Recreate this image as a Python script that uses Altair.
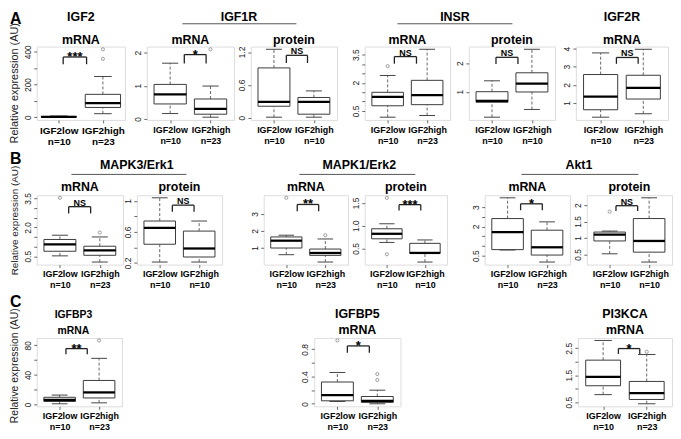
import altair as alt
import pandas as pd

FONT = "Liberation Sans"

# ---------------- values ----------------
GROUPS = ["IGF2low", "IGF2high"]
PANEL_NAMES = ["IGF2 mRNA", "IGF1R mRNA", "IGF1R protein", "INSR mRNA", "INSR protein", "IGF2R mRNA",
               "MAPK3 mRNA", "MAPK3 protein", "MAPK1 mRNA", "MAPK1 protein", "Akt1 mRNA", "Akt1 protein",
               "IGFBP3 mRNA", "IGFBP5 mRNA", "PI3KCA mRNA"]
N_LOW = [10, 10, 10, 10, 10, 10, 10, 10, 10, 10, 10, 10, 10, 10, 10]
N_HIGH = [23, 23, 10, 23, 10, 23, 23, 10, 23, 10, 23, 10, 23, 23, 23]

# [lower whisker, Q1, median, Q3, upper whisker]
LOW_STATS = [
    [0.5, 1.5, 3.0, 5.0, 8.0],
    [0.16, 0.45, 0.74, 1.04, 1.68],
    [0.01, 0.21, 0.29, 0.91, 1.25],
    [0.16, 0.77, 1.25, 1.49, 2.39],
    [0.11, 0.63, 0.68, 1.00, 1.38],
    [0.22, 0.63, 1.35, 2.57, 3.76],
    [0.52, 0.76, 1.12, 1.37, 1.59],
    [0.21, 0.44, 0.65, 0.74, 1.04],
    [0.61, 1.00, 1.43, 1.65, 1.75],
    [0.63, 0.71, 0.82, 0.93, 1.04],
    [0.79, 0.81, 1.71, 2.41, 3.48],
    [0.52, 0.91, 1.10, 1.18, 1.21],
    [0.9, 4.0, 6.2, 9.7, 12.7],
    [0.034, 0.044, 0.126, 0.32, 0.46],
    [0.78, 1.11, 1.44, 2.06, 2.79],
]
HIGH_STATS = [
    [22, 60, 86, 140, 249],
    [0.05, 0.14, 0.30, 0.60, 0.99],
    [0.01, 0.065, 0.29, 0.37, 0.49],
    [0.25, 0.83, 1.34, 2.13, 3.79],
    [0.38, 0.99, 1.28, 1.66, 2.48],
    [0.41, 1.22, 1.84, 2.53, 3.96],
    [0.20, 0.55, 0.81, 1.02, 1.50],
    [0.21, 0.275, 0.385, 0.61, 0.74],
    [0.18, 0.57, 0.71, 0.94, 1.53],
    [0.20, 0.39, 0.40, 0.61, 0.685],
    [0.17, 0.53, 0.93, 1.81, 2.24],
    [0.27, 0.57, 0.91, 1.59, 2.22],
    [2.2, 8.8, 16.3, 32.5, 62.4],
    [0.0, 0.02, 0.044, 0.107, 0.20],
    [0.44, 0.60, 0.84, 1.27, 2.27],
]
LOW_OUTLIERS = [[], [], [], [2.89], [], [], [3.53], [], [3.94], [1.61, 0.37], [], [1.80], [], [0.93], []]
HIGH_OUTLIERS = [[357, 415], [2.1], [], [], [], [], [1.73], [], [1.75], [], [], [], [86.6], [0.35, 0.437], [2.37]]

SIG_TEXT = ["***", "*", "NS", "NS", "NS", "NS", "NS", "NS", "**", "***", "*", "NS", "**", "*", "*"]
BRACKET_TOP = [368, 1.94, 1.14, 3.4, 2.2, 3.51, 3.07, 0.945, 3.55, 1.46, 3.17, 1.98, 75.6, 0.85, 2.49]
BRACKET_END = [324, 1.67, 1.0, 3.02, 1.97, 3.16, 2.72, 0.86, 3.16, 1.33, 2.84, 1.82, 68.1, 0.75, 2.29]
BRACKET_FROM = [1.10, 1.35, 1.31, 1.17, 1.10, 1.37, 1.22, 1.32, 1.28, 1.32, 1.33, 1.16, 1.16, 1.25, 1.35]
BRACKET_TO = [1.63, 1.89, 1.84, 1.73, 1.65, 1.88, 1.77, 1.87, 1.83, 1.89, 1.88, 1.71, 1.70, 1.80, 1.84]

Y_TICKS = [
    [0, 100, 200, 300, 400], [0, 1, 2], [0, 0.6, 1.2], [0.5, 1, 1.5, 2, 2.5, 3, 3.5], [0, 1, 2], [1, 2, 3, 4],
    [0.5, 1, 1.5, 2, 2.5, 3, 3.5], [0.2, 0.4, 0.6, 0.8, 1.0], [1, 2, 3], [0.5, 1.0, 1.5],
    [0.5, 1, 1.5, 2, 2.5, 3], [0.5, 1, 1.5, 2], [0, 20, 40, 60, 80], [0, 0.2, 0.4, 0.6, 0.8],
    [0.5, 1, 1.5, 2, 2.5],
]
Y_LABEL_AT = [
    [0, 200, 400], [0, 1, 2], [0, 0.6, 1.2], [0.5, 2, 3.5], [0, 1, 2], [1, 2, 3, 4],
    [0.5, 2, 3.5], [0.2, 0.6, 1.0], [1, 2, 3], [0.5, 1.0, 1.5],
    [0.5, 2, 3], [0.5, 1, 1.5, 2], [0, 40, 80], [0, 0.4, 0.8], [0.5, 1.5, 2.5],
]
Y_LABEL_TEXT = [
    ["0", "200", "400"], ["0", "1", "2"], ["0", "0.6", "1.2"], ["0.5", "2", "3.5"], ["0", "1", "2"],
    ["1", "2", "3", "4"], ["0.5", "2.0", "3.5"], ["0.2", "0.6", "1"], ["1", "2", "3"],
    ["0.5", "1.0", "1.5"], ["0.5", "2", "3"], ["0.5", "1", "1.5", "2"], ["0", "40", "80"],
    ["0", "0.4", "0.8"], ["0.5", "1.5", "2.5"],
]

TITLE_LINES = [["IGF2", "mRNA"], ["mRNA"], ["protein"], ["mRNA"], ["protein"], ["IGF2R", "mRNA"],
               ["mRNA"], ["protein"], ["mRNA"], ["protein"], ["mRNA"], ["protein"],
               ["IGFBP3", "mRNA"], ["IGFBP5", "mRNA"], ["PI3KCA", "mRNA"]]
GROUP_HEADERS = {1: "IGF1R", 3: "INSR", 6: "MAPK3/Erk1", 8: "MAPK1/Erk2", 10: "Akt1"}
ROW_LETTERS = ["A", "B", "C"]
Y_TITLE = "Relative expression (AU)"

# ---------------- layout / style ----------------
ROWS = [[0, 1, 2, 3, 4, 5], [6, 7, 8, 9, 10, 11], [12, 13, 14]]
WIDTH = [89, 88, 87, 86, 87, 93, 87, 86, 85, 83, 86, 86, 86, 87, 95]
ROW_H = [74, 70, 69]
GAPS = [[22, 17, 28, 19, 21], [14, 42, 17, 38, 17], [194, 179]]
ROW_SPACING = 3
HEADER_POS = {1: (93, 36, 151), 3: (91, 33, 149), 6: (101, 35, 151), 8: (96.5, 36, 153), 10: (95, 37, 155)}
HEADER_Y = [(-26, -23), (-26, -21)]
LETTER_Y = [-23, -32, -31]
YTITLE_POS = [(37, 11), (25.5, 10), (28, 10.5)]

BOX_HALF = 0.4
STAPLE_HALF = 0.2

one = pd.DataFrame({"z": [0]})


def text_layer(txt, x, y, size, weight="bold", align="center", baseline="alphabetic", angle=0, color="#000"):
    kw = dict(text=txt, font=FONT, fontSize=size, fontWeight=weight, align=align,
              baseline=baseline, color=color)
    if angle:
        kw["angle"] = angle
    return alt.Chart(one).mark_text(**kw).encode(x=alt.value(x), y=alt.value(y))


def build_panel(i, row, first):
    w, h = WIDTH[i], ROW_H[row]
    ls, hs = LOW_STATS[i], HIGH_STATS[i]
    box = pd.DataFrame({
        "pos": [1, 2],
        "lw": [ls[0], hs[0]], "q1": [ls[1], hs[1]], "med": [ls[2], hs[2]],
        "q3": [ls[3], hs[3]], "uw": [ls[4], hs[4]],
    })
    box["left"] = box["pos"] - BOX_HALF
    box["right"] = box["pos"] + BOX_HALF
    box["sl"] = box["pos"] - STAPLE_HALF
    box["sr"] = box["pos"] + STAPLE_HALF

    allv = ls + hs + LOW_OUTLIERS[i] + HIGH_OUTLIERS[i]
    lo, hi = min(allv), max(allv)
    pad = 0.04 * (hi - lo)
    xdom = [0.5, 2.5] if i == 0 else [0.42, 2.58]
    xsc = alt.Scale(domain=xdom, nice=False, zero=False)
    ysc = alt.Scale(domain=[lo - pad, hi + pad], nice=False, zero=False)

    xexpr = (f"datum.value == 1 ? ['{GROUPS[0]}', 'n={N_LOW[i]}'] : "
             f"['{GROUPS[1]}', 'n={N_HIGH[i]}']")
    xaxis = alt.Axis(values=[1, 2], labelExpr=xexpr, title=None, grid=False, domain=False,
                     ticks=True, tickSize=3, tickColor="#666", labelFont=FONT,
                     labelFontSize=10 if i == 0 else 9,
                     labelFontWeight="bold", labelColor="#000", labelPadding=2.5, labelLineHeight=11,
                     labelOverlap=False, labelFlush=False, labelBound=False)
    yexpr = " : ".join(f"abs(datum.value - {v}) < 1e-9 ? '{t}'"
                       for v, t in zip(Y_LABEL_AT[i], Y_LABEL_TEXT[i])) + " : ''"
    yaxis = alt.Axis(values=Y_TICKS[i], labelExpr=yexpr, title=None, grid=False, domain=False,
                     tickSize=3, tickColor="#666", labelAngle=270, labelAlign="center",
                     labelBaseline="bottom", labelFont=FONT, labelFontSize=8.5, labelColor="#222",
                     labelPadding=1.5, labelOverlap=False, labelFlush=False, labelBound=False)

    def X(f):
        return alt.X(f, type="quantitative", scale=xsc, axis=xaxis)

    def Y(f):
        return alt.Y(f, type="quantitative", scale=ysc, axis=yaxis)

    base = alt.Chart(box)
    layers = [
        base.mark_rule(color="#555", strokeDash=[3, 2], strokeWidth=0.9).encode(
            x=X("pos"), y=Y("q3"), y2="uw"),
        base.mark_rule(color="#555", strokeDash=[3, 2], strokeWidth=0.9).encode(
            x=X("pos"), y=Y("lw"), y2="q1"),
        base.mark_rule(color="#444", strokeWidth=1).encode(x=X("sl"), x2="sr", y=Y("uw")),
        base.mark_rule(color="#444", strokeWidth=1).encode(x=X("sl"), x2="sr", y=Y("lw")),
        base.mark_rect(fill="white", stroke="#3a3a3a", strokeWidth=1).encode(
            x=X("left"), x2="right", y=Y("q1"), y2="q3"),
        base.mark_rule(color="#000", strokeWidth=2.3).encode(x=X("left"), x2="right", y=Y("med")),
    ]
    outs = LOW_OUTLIERS[i] + HIGH_OUTLIERS[i]
    if outs:
        odf = pd.DataFrame({"pos": [1] * len(LOW_OUTLIERS[i]) + [2] * len(HIGH_OUTLIERS[i]), "v": outs})
        layers.append(alt.Chart(odf).mark_point(shape="circle", filled=False, size=10,
                                                color="#555", strokeWidth=0.8).encode(
            x=X("pos"), y=Y("v")))

    bdf = pd.DataFrame({"x1": [BRACKET_FROM[i]], "x2": [BRACKET_TO[i]], "top": [BRACKET_TOP[i]],
                        "end": [BRACKET_END[i]], "t": [SIG_TEXT[i]],
                        "xm": [(BRACKET_FROM[i] + BRACKET_TO[i]) / 2]})
    bb = alt.Chart(bdf)
    layers += [
        bb.mark_rule(color="#222", strokeWidth=1.3).encode(x=X("x1"), x2="x2", y=Y("top")),
        bb.mark_rule(color="#222", strokeWidth=1.3).encode(x=X("x1"), y=Y("end"), y2="top"),
        bb.mark_rule(color="#222", strokeWidth=1.3).encode(x=X("x2"), y=Y("end"), y2="top"),
    ]
    star = "*" in SIG_TEXT[i]
    layers.append(bb.mark_text(font=FONT, fontWeight="bold", fontSize=13 if star else 9,
                               baseline="alphabetic", dy=4 if star else -1, color="#000").encode(
        x=X("xm"), y=Y("top"), text="t:N"))

    # panel titles
    lines = TITLE_LINES[i]
    tsize = 10.5 if i == 12 else 12.5
    tdx = -6 if i == 12 else 0
    if row == 2:
        ys = [-20, -4]
    elif len(lines) == 2:
        ys = [-26, -3]
    else:
        ys = [-3] if row == 0 else [-4]
    for ln, yy in zip(lines, ys):
        layers.append(text_layer(ln, w / 2 + tdx, yy, tsize))

    # group header with underline
    if i in GROUP_HEADERS:
        cx, lx1, lx2 = HEADER_POS[i]
        ty, ly = HEADER_Y[row]
        layers.append(text_layer(GROUP_HEADERS[i], cx, ty, 12.5))
        layers.append(alt.Chart(one).mark_rule(color="#555", strokeWidth=1).encode(
            x=alt.value(lx1), x2=alt.value(lx2), y=alt.value(ly)))

    if first:
        cy, fs = YTITLE_POS[row]
        layers.append(text_layer(Y_TITLE, -19, cy, fs, weight="normal", angle=270, color="#222"))
        layers.append(text_layer(ROW_LETTERS[row], -27, LETTER_Y[row], 16, align="left"))

    return alt.layer(*layers).properties(width=w, height=h)


def spacer(w, h):
    return alt.Chart(one).mark_point(opacity=0).encode(
        x=alt.value(0), y=alt.value(0)).properties(
        width=w, height=h, view=alt.ViewBackground(stroke="transparent"))


rows = []
for r, idxs in enumerate(ROWS):
    items = []
    for k, i in enumerate(idxs):
        items.append(build_panel(i, r, k == 0))
        if k < len(idxs) - 1:
            items.append(spacer(GAPS[r][k], ROW_H[r]))
    rows.append(alt.hconcat(*items, spacing=0, bounds="flush"))

chart = alt.vconcat(*rows, spacing=ROW_SPACING).properties(
    padding={"left": 0, "top": 0, "right": 0, "bottom": 0}
).configure_view(stroke="#a3a3a3", strokeWidth=1).configure(font=FONT)

chart.save("out.html", embed_options={"renderer": "svg", "actions": False})
